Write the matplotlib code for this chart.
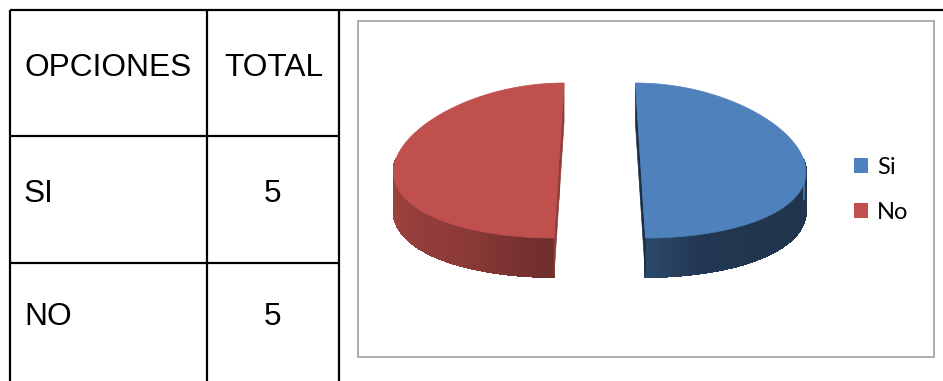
import numpy as np
import matplotlib
matplotlib.use('Agg')
import matplotlib.pyplot as plt
from matplotlib.patches import Polygon, Rectangle, Patch
from matplotlib.collections import PolyCollection, LineCollection

# table contents
headers = ['OPCIONES', 'TOTAL']
opciones = ['SI', 'NO']
totales = [5, 5]

# pie series
labels = ['Si', 'No']
values = [5, 5]
colors = ['#4f81bd', '#c0504d']

W, H = 943, 381
fig = plt.figure(figsize=(W / 100, H / 100), dpi=100)
ax = fig.add_axes([0, 0, 1, 1])
ax.set_xlim(0, W)
ax.set_ylim(H, 0)
ax.axis('off')

# ---- table grid ----
lw = 1.6
col_x = [10, 207.2, 338.8]
row_y = [10.3, 136.2, 262.8]
ax.plot([col_x[0], W], [row_y[0], row_y[0]], color='black', lw=lw, solid_capstyle='butt')
for x in col_x:
    ax.plot([x, x], [row_y[0], H], color='black', lw=lw, solid_capstyle='butt')
for y in row_y[1:]:
    ax.plot([col_x[0], col_x[2]], [y, y], color='black', lw=lw, solid_capstyle='butt')

txt = dict(family='Liberation Sans', fontsize=22.8, color='black', va='baseline')
ax.text(24, 75.5, headers[0], ha='left', **txt)
ax.text(224, 75.5, headers[1], ha='left', **txt)
baselines = [201.7, 325]
for name, tot, yb in zip(opciones, totales, baselines):
    ax.text(24, yb, name, ha='left', **txt)
    ax.text(273, yb, str(tot), ha='center', **txt)

# ---- chart frame ----
ax.add_patch(Rectangle((358.3, 20.7), 933.5 - 358.3, 356.7 - 20.7, fill=False,
                       edgecolor='#a0a0a0', lw=1.2))

# ---- 3d exploded pie ----
cx, cy = 599.7, 160.5      # center of top face
R, b = 163.5, 77.5         # horizontal / vertical semi-axes
depth = 39
explode = 0.249
persp = 0.124


def proj(u, v, down=0.0):
    X = cx + R * u * (1 - persp * v)
    Y = cy - b * v + down
    return X, Y


def side_shade(phi):
    phi = np.mod(phi, 360)
    return np.interp(phi, [180, 240, 270, 290, 360], [0.85, 0.73, 0.57, 0.42, 0.40])


def scale(c, f):
    rgb = np.array(matplotlib.colors.to_rgb(c))
    return tuple(np.clip(rgb * f, 0, 1))


fracs = np.array(values, dtype=float) / sum(values)
start = 90.0
for frac, col, lab in zip(fracs, colors, labels):
    a1 = start
    a0 = start - 360 * frac
    start = a0
    mid = np.radians((a0 + a1) / 2)
    du, dv = explode * np.cos(mid), explode * np.sin(mid)
    phis = np.linspace(a0, a1, 241)
    rad = np.radians(phis)
    u = np.cos(rad) + du
    v = np.sin(rad) + dv

    # outer wall, only the front-facing part, shaded by angle
    quads, qcols, bottom, bcols = [], [], [], []
    for i in range(len(phis) - 1):
        if np.sin(rad[i]) > 1e-9 and np.sin(rad[i + 1]) > 1e-9:
            continue
        t0 = proj(u[i], v[i]); t1 = proj(u[i + 1], v[i + 1])
        b0 = proj(u[i], v[i], depth); b1 = proj(u[i + 1], v[i + 1], depth)
        c = scale(col, side_shade((phis[i] + phis[i + 1]) / 2))
        quads.append([t0, t1, b1, b0])
        qcols.append(c)
        bottom.append([b0, b1])
        bcols.append(c)
    ax.add_collection(PolyCollection(quads, facecolors=qcols, edgecolors=qcols,
                                     linewidths=0.8, antialiased=False))
    ax.add_collection(LineCollection(bottom, colors=bcols, linewidths=0.9))

    # cut faces along the slice edges
    cut_f = 0.75 if col == colors[1] else 0.35
    cc = scale(col, cut_f)
    for a in (a0, a1):
        ar = np.radians(a)
        ue, ve = np.cos(ar) + du, np.sin(ar) + dv
        pts = [proj(du, dv), proj(ue, ve), proj(ue, ve, depth), proj(du, dv, depth)]
        ax.add_patch(Polygon(pts, closed=True, facecolor=cc, edgecolor=cc, lw=0.5))

    # top face
    top = [proj(du, dv)] + [proj(uu, vv) for uu, vv in zip(u, v)]
    ax.add_patch(Polygon(top, closed=True, facecolor=col, edgecolor=col, lw=0.5))

handles = [Patch(facecolor=c, edgecolor='none', label=l) for c, l in zip(colors, labels)]
fig.legend(handles=handles, loc='upper left', bbox_to_anchor=(854 / W, 1 - 156.5 / H),
           frameon=False, prop={'family': 'Lato', 'size': 17},
           handlelength=0.59, handleheight=0.59, handletextpad=0.38,
           labelspacing=1.03, borderpad=0, borderaxespad=0)

fig.savefig('out.png', dpi=100)
